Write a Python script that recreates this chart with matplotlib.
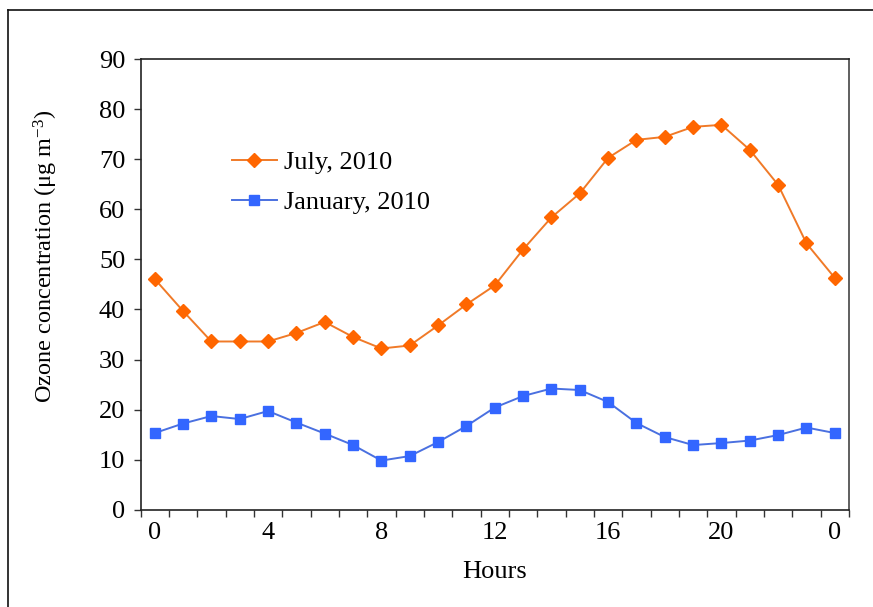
import matplotlib
matplotlib.use("Agg")
import matplotlib.pyplot as plt
from matplotlib.lines import Line2D

hours = list(range(25))
hour_labels = ["0", "4", "8", "12", "16", "20", "0"]
july = [46.1, 39.7, 33.6, 33.6, 33.6, 35.3, 37.5, 34.5, 32.2, 32.8, 36.8, 41.0, 44.8,
        52.0, 58.4, 63.2, 70.3, 73.9, 74.5, 76.5, 76.9, 71.9, 64.9, 53.2, 46.3]
january = [15.3, 17.2, 18.7, 18.1, 19.7, 17.4, 15.2, 12.9, 9.8, 10.7, 13.5, 16.7, 20.4,
           22.7, 24.2, 23.9, 21.5, 17.3, 14.5, 12.9, 13.3, 13.8, 14.9, 16.4, 15.3]
yticks = list(range(0, 91, 10))

plt.rcParams['font.family'] = ['Liberation Serif', 'DejaVu Serif']
plt.rcParams['mathtext.fontset'] = 'custom'
plt.rcParams['mathtext.rm'] = 'Liberation Serif'
plt.rcParams['mathtext.it'] = 'Liberation Serif:italic'

FS = 19

fig = plt.figure(figsize=(8.73, 6.07), dpi=100)
ax = fig.add_axes([140.5/873, 1-509.6/607, (849-140.5)/873, (509.6-59.3)/607])

ax.plot(hours, july, color='#F07A28', lw=1.4, marker='D', ms=7.0,
        mfc='#FF6600', mec='#FF6600', label='July, 2010')
ax.plot(hours, january, color='#4A70E0', lw=1.4, marker='s', ms=7.8,
        mfc='#3366FF', mec='#3366FF', label='January, 2010')

ax.set_xlim(-0.5, 24.5)
ax.set_ylim(0, 90)
ax.set_yticks(yticks)
ax.set_xticks(hours[::4])
ax.set_xticklabels(hour_labels)
ax.set_xticks([h - 0.5 for h in hours] + [24.5], minor=True)
ax.tick_params(axis='x', which='major', length=0, pad=9, labelsize=FS)
ax.tick_params(axis='x', which='minor', length=5, width=1, color='#333333', direction='out')
ax.tick_params(axis='y', length=5, width=1, color='#333333', direction='out', pad=6, labelsize=FS)

for s in ax.spines.values():
    s.set_linewidth(1.2)
    s.set_color('#222222')
ax.spines['right'].set_color('#444444')

ax.set_xlabel('Hours', fontsize=FS, labelpad=12)
ax.set_ylabel(r'Ozone concentration (μg m$^{-3}$)', fontsize=17.5)
ax.yaxis.set_label_coords(-0.1136, 0.563)

leg = ax.legend(loc='upper left', bbox_to_anchor=(231.7/873, 1-150.7/607),
                bbox_transform=fig.transFigure, frameon=False, fontsize=FS,
                handlelength=1.7, handletextpad=0.3, labelspacing=0.61,
                borderpad=0, borderaxespad=0)

# outer frame (top and left edges)
fig.add_artist(Line2D([8/873, 8/873], [0, 1-10/607], transform=fig.transFigure, color='#111111', lw=1.2))
fig.add_artist(Line2D([8/873, 1], [1-10/607, 1-10/607], transform=fig.transFigure, color='#111111', lw=1.2))

fig.savefig('out.png', dpi=100)
